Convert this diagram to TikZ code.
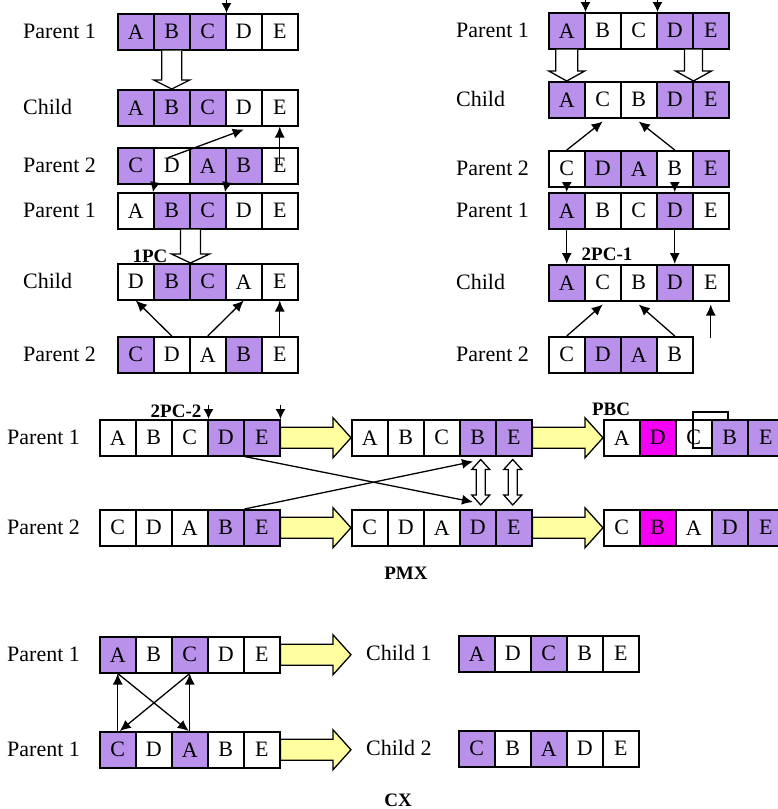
\documentclass[tikz,border=0pt]{standalone}
\usepackage{fontspec}
\setmainfont{Liberation Serif}
\usetikzlibrary{arrows.meta,calc}
\definecolor{p}{RGB}{185,145,235}
\definecolor{m}{RGB}{245,0,245}
\definecolor{w}{RGB}{255,255,255}
\definecolor{yel}{RGB}{255,255,160}
\tikzset{
 cell/.style={draw=black, line width=1.5pt, minimum width=36pt, minimum height=36pt, inner sep=0pt, anchor=north west, font=\fontsize{22}{22}\selectfont},
 lab/.style={anchor=west, inner sep=0pt, font=\fontsize{22}{24}\selectfont},
 blab/.style={inner sep=0pt, font=\fontsize{19}{20}\selectfont\bfseries},
 arr/.style={line width=1.3pt, -{Latex[length=11pt,width=10pt]}},
 sarr/.style={line width=1.3pt, -{Latex[length=10pt,width=10pt]}},
 hollow/.style={draw=black, fill=white, line width=1.3pt, line join=miter},
 yarrstyle/.style={draw=black, fill=yel, line width=1.3pt, line join=miter},
}
\newcommand\crow[4]{\foreach \t/\c [count=\i] in {#4} {\node[cell, fill=\c] (#1-\i) at (#2+36*\i-36, #3) {\t};}}
\newcommand\hdown[5]{\draw[hollow] let \p1=(#1), \p2=(#2) in (\x1-#3pt,\y1) -- (\x1-#3pt,\y2+#5pt) -- (\x1-#4pt,\y2+#5pt) -- (\x1,\y2) -- (\x1+#4pt,\y2+#5pt) -- (\x1+#3pt,\y2+#5pt) -- (\x1+#3pt,\y1);}
\newcommand\dhollow[2]{\draw[hollow] let \p1=(#1), \p2=(#2) in (\x1-4.5pt,\y1-10pt) -- (\x1-9pt,\y1-10pt) -- (\x1,\y1) -- (\x1+9pt,\y1-10pt) -- (\x1+4.5pt,\y1-10pt) -- (\x1+4.5pt,\y2+10pt) -- (\x1+9pt,\y2+10pt) -- (\x1,\y2) -- (\x1-9pt,\y2+10pt) -- (\x1-4.5pt,\y2+10pt) -- cycle;}
\newcommand\yarr[2]{\draw[yarrstyle] let \p1=(#1), \p2=(#2) in (\x1,\y1+10.5pt) -- (\x2-18pt,\y1+10.5pt) -- (\x2-18pt,\y1+20pt) -- (\x2,\y1) -- (\x2-18pt,\y1-20pt) -- (\x2-18pt,\y1-10.5pt) -- (\x1,\y1-10.5pt) -- cycle;}
\begin{document}
\begin{tikzpicture}[x=1pt,y=-1pt]
\useasboundingbox[fill=white] (0,0) rectangle (777,809);
% ---------- Section 1 (top left)
\crow{ra}{117}{13}{A/p,B/p,C/p,D/w,E/w}
\crow{rb}{117}{89}{A/p,B/p,C/p,D/w,E/w}
\crow{rc}{117}{147}{C/p,D/w,A/p,B/p,E/w}
\crow{rd}{117}{192}{A/w,B/p,C/p,D/w,E/w}
\crow{re}{117}{263}{D/w,B/p,C/p,A/w,E/w}
\crow{rf}{117}{336}{C/p,D/w,A/w,B/p,E/w}
\node[lab] (la) at (23,31) {Parent 1};
\node[lab] (lb) at (23,107) {Child};
\node[lab] (lc) at (23,165) {Parent 2};
\node[lab] (ld) at (23,210) {Parent 1};
\node[lab] (le) at (23,281) {Child};
\node[lab] (lf) at (23,354) {Parent 2};
\coordinate (ca) at ([yshift=13pt]ra-3.north east);
\draw[sarr] (ca) -- (ra-3.north east);
\hdown{ra-2.south}{rb-2.north}{10}{18}{9}
\draw[arr] ([xshift=-4pt,yshift=8pt]rc-2.center) -- ([yshift=-3pt]rb-4.south);
\draw[arr] ([yshift=2pt]rc-5.center) -- (rb-5.south);
\draw[sarr] (rc-1.south east) -- (rd-2.north west);
\draw[sarr] (rc-3.south east) -- (rd-4.north west);
\hdown{rd-2.south east}{re-2.north east}{10}{19}{9}
\node[blab] (l1pc) at (150,256) {1PC};
\draw[arr] (rf-2.north) -- (re-1.south);
\draw[arr] (rf-3.north) -- (re-4.south);
\draw[arr] (rf-5.north) -- (re-5.south);
% ---------- Section 2 (top right)
\crow{sa}{548}{12}{A/p,B/w,C/w,D/p,E/p}
\crow{sb}{548}{81}{A/p,C/w,B/w,D/p,E/p}
\crow{sc}{548}{150}{C/w,D/p,A/p,B/w,E/p}
\crow{sd}{548}{192}{A/p,B/w,C/w,D/p,E/w}
\crow{se}{548}{264}{A/p,C/w,B/w,D/p,E/w}
\crow{sf}{548}{336}{C/w,D/p,A/p,B/w}
\node[lab] (ma) at (456,30) {Parent 1};
\node[lab] (mb) at (456,99) {Child};
\node[lab] (mc) at (456,168) {Parent 2};
\node[lab] (md) at (456,210) {Parent 1};
\node[lab] (me) at (456,282) {Child};
\node[lab] (mf) at (456,354) {Parent 2};
\coordinate (cb1) at ([yshift=12pt]sa-1.north east);
\coordinate (cb2) at ([yshift=12pt]sa-3.north east);
\draw[sarr] (cb1) -- (sa-1.north east);
\draw[sarr] (cb2) -- (sa-3.north east);
\hdown{sa-1.south}{sb-1.north}{11}{18}{10}
\hdown{sa-4.south east}{sb-4.north east}{9}{18}{10}
\draw[arr] (sc-1.north) -- ([yshift=-3pt]sb-2.south);
\draw[arr] (sc-4.north) -- ([yshift=-3pt]sb-3.south);
\draw[sarr] (sc-1.south) -- (sd-1.north);
\draw[sarr] (sc-4.south) -- (sd-4.north);
\draw[arr] (sd-1.south) -- (se-1.north);
\draw[arr] (sd-4.south) -- (se-4.north);
\node[blab] (l2pc1) at (607,254) {2PC-1};
\draw[arr] (sf-1.north) -- ([yshift=-3pt]se-2.south);
\draw[arr] (sf-4.north) -- ([yshift=-3pt]se-3.south);
\coordinate (fr) at ([yshift=-36pt]se-5.south);
\draw[arr] (fr) -- ([yshift=-3pt]se-5.south);
% ---------- Section 3 (PMX / PBC)
\crow{ta}{99}{419}{A/w,B/w,C/w,D/p,E/p}
\crow{tb}{99}{509}{C/w,D/w,A/w,B/p,E/p}
\crow{tc}{351}{419}{A/w,B/w,C/w,B/p,E/p}
\crow{td}{351}{509}{C/w,D/w,A/w,D/p,E/p}
\crow{te}{603}{419}{A/w,D/m,C/w,B/p,E/p}
\crow{tf}{603}{509}{C/w,B/m,A/w,D/p,E/p}
\draw[line width=1.3pt] (711,448) -- (693,448) -- (693,412) -- (728,412) -- (728,419);
\node[lab] (na) at (7,437) {Parent 1};
\node[lab] (nb) at (7,527) {Parent 2};
\node[blab] (l2pc2) at (176,411) {2PC-2};
\node[blab] (lpbc) at (611,409) {PBC};
\node[blab] (lpmx) at (406,573) {PMX};
\coordinate (cc1) at ([yshift=14pt]ta-3.north east);
\coordinate (cc2) at ([yshift=14pt]ta-5.north east);
\draw[sarr] (cc1) -- (ta-3.north east);
\draw[sarr] (cc2) -- (ta-5.north east);
\yarr{ta-5.east}{tc-1.west}
\yarr{tb-5.east}{td-1.west}
\yarr{tc-5.east}{te-1.west}
\yarr{td-5.east}{tf-1.west}
\dhollow{[xshift=3pt,yshift=-3pt]tc-4.south}{[xshift=3pt,yshift=4pt]td-4.north}
\dhollow{[xshift=-1pt,yshift=-3pt]tc-5.south}{[xshift=-1pt,yshift=4pt]td-5.north}
\draw[arr] (ta-4.south east) -- ([xshift=14pt,yshift=7pt]td-4.north west);
\draw[arr] (tb-4.north east) -- ([xshift=14pt,yshift=-5pt]tc-4.south west);
% ---------- Section 4 (CX)
\crow{ua}{99}{636}{A/p,B/w,C/p,D/w,E/w}
\crow{ub}{99}{731}{C/p,D/w,A/p,B/w,E/w}
\crow{uc}{458}{635}{A/p,D/w,C/p,B/w,E/w}
\crow{ud}{458}{730}{C/p,B/w,A/p,D/w,E/w}
\node[lab] (oa) at (7,654) {Parent 1};
\node[lab] (ob) at (7,749) {Parent 1};
\node[lab] (oc) at (366,653) {Child 1};
\node[lab] (od) at (366,748) {Child 2};
\node[blab] (lcx) at (398,800) {CX};
\yarr{ua-5.east}{[xshift=-15pt]oc.west}
\yarr{ub-5.east}{[xshift=-15pt]od.west}
\draw[arr] (ub-1.north) -- (ua-1.south);
\draw[arr] (ub-3.north) -- (ua-3.south);
\draw[arr] (ua-1.south) -- ([xshift=-1pt]ub-3.north);
\draw[arr] (ua-3.south) -- ([xshift=2pt]ub-1.north);
\end{tikzpicture}
\end{document}
